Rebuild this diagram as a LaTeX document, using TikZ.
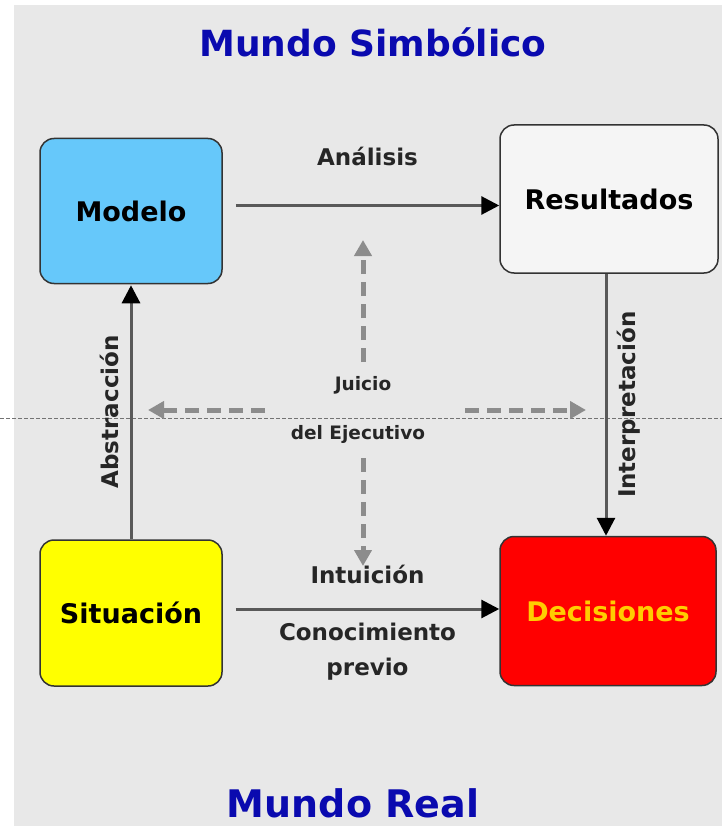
\documentclass[tikz,border=0pt]{standalone}
\usepackage{fontspec}
\setmainfont{DejaVu Sans}
\usetikzlibrary{arrows.meta}
\definecolor{worldblue}{RGB}{10,10,175}
\definecolor{modelblue}{RGB}{102,200,250}
\definecolor{sityellow}{RGB}{255,255,0}
\definecolor{decred}{RGB}{255,0,0}
\definecolor{decgold}{RGB}{255,205,0}
\begin{document}
\begin{tikzpicture}[x=1pt,y=-1pt]
% Node styles ---
\tikzstyle{box} = [rectangle, rounded corners=14pt, line width=1.5pt, draw=black!80, font=\bfseries\fontsize{27}{30}\selectfont] % Boxes
\tikzstyle{world} = [font=\bfseries\fontsize{36}{40}\selectfont, text=worldblue] % World titles
\tikzstyle{lab} = [font=\bfseries\fontsize{23}{28}\selectfont, text=black!85] % Edge labels
\tikzstyle{judge} = [font=\bfseries\fontsize{18.5}{22}\selectfont, text=black!85] % Centre label
% Edge styles
\tikzstyle{con} = [-{Triangle[length=18pt, width=18pt, color=black]}, line width=3pt, draw=black!65] % Steps
\tikzstyle{jud} = [-{Triangle[length=16pt, width=17pt]}, line width=5pt, draw=black!45, dash pattern=on 14pt off 8pt] % Judgement
% Background ---
\useasboundingbox (0,0) rectangle (722,826);
\fill[white] (0,0) rectangle (722,826);
\fill[black!9] (14,5) rectangle (722,826);
\draw[black!55, thin, dash pattern=on 4pt off 2pt] (0,418) -- (722,418);
% Nodes
\node at (373,42) [world] (symb) {Mundo Simbólico};
\node at (353,803) [world, font=\bfseries\fontsize{38}{42}\selectfont] (real) {Mundo Real};
\node at (131,211) [box, fill=modelblue, minimum width=182pt, minimum height=145pt] (modelo) {Modelo};
\node at (609,199) [box, fill=white!96!black, minimum width=218pt, minimum height=148pt] (result) {Resultados};
\node at (131,613) [box, fill=sityellow, minimum width=182pt, minimum height=146pt] (situa) {Situación};
\node at (608,611) [box, fill=decred, text=decgold, minimum width=216pt, minimum height=149pt] (decis) {Decisiones};
\node at (363,385) [judge] (juicio) {Juicio};
\node at (358,434) [judge] (ejec) {del Ejecutivo};
\coordinate (jl0) at (265,410);
\coordinate (jl1) at (148,410);
\coordinate (jr0) at (465,410);
\coordinate (jr1) at (586,410);
\coordinate (jt0) at (363,362);
\coordinate (jt1) at (363,240);
\coordinate (jb0) at (363,458);
\coordinate (jb1) at (363,566);
% Paths
\path ([xshift=13pt, yshift=5.5pt]modelo.east) edge [con] node [lab, above=35pt] {Análisis} ([yshift=5.5pt]modelo.east -| result.west);
\path ([xshift=13pt, yshift=4pt]situa.east) edge [con] node [lab, above=20pt] {Intuición} node [lab, below=9pt, align=center] {Conocimiento\\[7pt]previo} ([yshift=4pt]situa.east -| decis.west);
\path (situa.north) edge [con, shorten >=1pt] node [lab, sloped, above=7pt] {Abstracción} (modelo.south);
\path ([xshift=-3pt]result.south) edge [con] node [lab, rotate=90, anchor=north, outer sep=8pt] {Interpretación} ([xshift=-3pt]result.south |- decis.north);
% judgement
\path (jl0) edge [jud] (jl1);
\path (jr0) edge [jud] (jr1);
\path (jt0) edge [jud] (jt1);
\path (jb0) edge [jud] (jb1);
\end{tikzpicture}
\end{document}
